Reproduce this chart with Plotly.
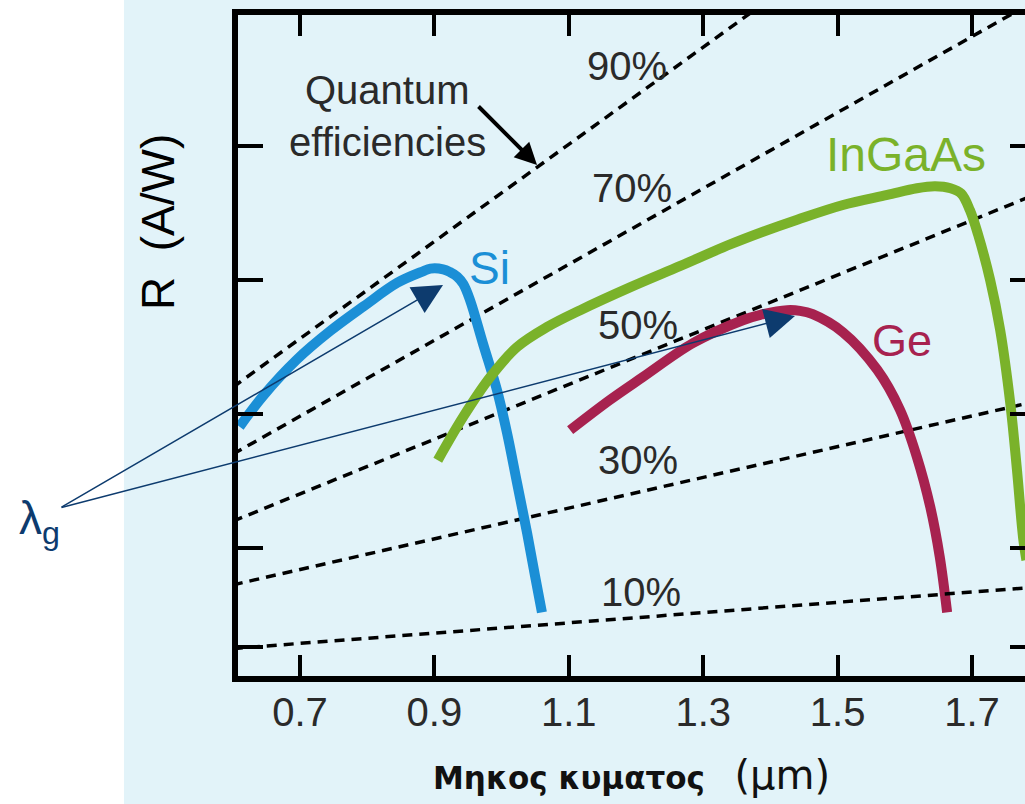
import plotly.graph_objects as go

# ---------------- data ----------------
si_wl = [0.61, 0.645, 0.695, 0.745, 0.795, 0.845, 0.883, 0.894, 0.913, 0.923, 0.934,
         0.943, 0.953, 0.972, 0.993, 1.008, 1.023, 1.038, 1.050, 1.060]
si_r = [0.381, 0.427, 0.481, 0.524, 0.561, 0.596, 0.613, 0.617, 0.616, 0.612, 0.605,
        0.594, 0.570, 0.506, 0.436, 0.372, 0.297, 0.222, 0.157, 0.104]

ingaas_wl = [0.905, 0.943, 0.983, 1.023, 1.068, 1.117, 1.191, 1.266, 1.340, 1.389,
             1.440, 1.508, 1.574, 1.618, 1.645, 1.668, 1.684, 1.697, 1.709, 1.727,
             1.742, 1.757, 1.767, 1.776, 1.781]
ingaas_r = [0.331, 0.396, 0.455, 0.500, 0.530, 0.555, 0.589, 0.621, 0.653, 0.672,
            0.690, 0.712, 0.727, 0.737, 0.740, 0.737, 0.729, 0.704, 0.668, 0.600,
            0.525, 0.416, 0.316, 0.216, 0.182]

ge_wl = [1.102, 1.161, 1.210, 1.285, 1.359, 1.385, 1.425, 1.444, 1.463,
         1.508, 1.559, 1.593, 1.618, 1.638, 1.652, 1.663]
ge_r = [0.376, 0.421, 0.455, 0.506, 0.540, 0.548, 0.555, 0.554, 0.549,
        0.522, 0.466, 0.406, 0.336, 0.261, 0.187, 0.104]

qe_labels = ["90%", "70%", "50%", "30%", "10%"]
qe_wl = [0.60, 1.80]
qe_r = [[0.440, 1.310],
        [0.340, 1.020],
        [0.240, 0.730],
        [0.145, 0.420],
        [0.050, 0.142]]
qe_label_wl = [1.187, 1.194, 1.203, 1.203, 1.207]
qe_label_r = [0.919, 0.737, 0.533, 0.331, 0.134]

x_ticks = [0.7, 0.9, 1.1, 1.3, 1.5, 1.7]
x_tick_text = ["0.7", "0.9", "1.1", "1.3", "1.5", "1.7"]
y_ticks = [0.052, 0.2, 0.4, 0.6, 0.8]

x_range = [0.6077, 1.7789]
y_range = [0.009, 0.9955]

# ---------------- styles ----------------
BG = "#E2F3F9"
SI_C = "#1B8FD6"
IN_C = "#7AB22A"
GE_C = "#A7224F"
NAVY = "#0D3B6E"
TXT = "#2a2a2a"
FONT = "Liberation Sans, Arial, sans-serif"

fig = go.Figure()

for i, lab in enumerate(qe_labels):
    fig.add_trace(go.Scatter(
        x=qe_wl, y=qe_r[i], mode="lines",
        line=dict(color="black", width=3.5, dash="10px,7px"),
        hoverinfo="skip", showlegend=False,
        yaxis="y2" if i == len(qe_labels) - 1 else "y"))

for wl, r, c in [(si_wl, si_r, SI_C), (ingaas_wl, ingaas_r, IN_C), (ge_wl, ge_r, GE_C)]:
    fig.add_trace(go.Scatter(
        x=wl, y=r, mode="lines",
        line=dict(color=c, width=10, shape="spline", smoothing=1.0),
        hoverinfo="skip", showlegend=False))

annotations = []
for i, lab in enumerate(qe_labels):
    annotations.append(dict(x=qe_label_wl[i], y=qe_label_r[i], xref="x", yref="y",
                            xanchor="center", yanchor="middle",
                            text=lab, showarrow=False,
                            font=dict(family=FONT, size=40, color=TXT)))

annotations += [
    dict(x=0.8295, y=0.8836, xref="x", yref="y", text="Quantum", showarrow=False,
         xanchor="center", yanchor="middle",
         font=dict(family=FONT, size=40, color=TXT)),
    dict(x=0.8295, y=0.806, xref="x", yref="y", text="efficiencies", showarrow=False,
         xanchor="center", yanchor="middle",
         font=dict(family=FONT, size=40, color=TXT)),
    dict(x=1.0527, y=0.7716, xref="x", yref="y", ax=-60, ay=-60, text="",
         showarrow=True, arrowhead=2, arrowsize=1.1, arrowwidth=4, arrowcolor="black"),
    dict(x=0.9827, y=0.6179, xref="x", yref="y", text="Si", showarrow=False,
         xanchor="center", yanchor="middle",
         font=dict(family=FONT, size=46, color=SI_C)),
    dict(x=1.6018, y=0.7866, xref="x", yref="y", text="InGaAs", showarrow=False,
         xanchor="center", yanchor="middle",
         font=dict(family=FONT, size=48, color=IN_C)),
    dict(x=1.5958, y=0.5104, xref="x", yref="y", text="Ge", showarrow=False,
         xanchor="center", yanchor="middle",
         font=dict(family=FONT, size=45, color=GE_C)),
    # lambda_g pointers
    dict(x=0.9128, y=0.5925, xref="x", yref="y", ax=-383, ay=223, text="",
         showarrow=True, arrowhead=2, arrowsize=4, arrowwidth=1.5, arrowcolor=NAVY),
    dict(x=1.4366, y=0.5463, xref="x", yref="y", ax=-735, ay=192, text="",
         showarrow=True, arrowhead=2, arrowsize=4, arrowwidth=1.5, arrowcolor=NAVY),
    dict(x=-0.2808, y=0.233, xref="paper", yref="paper", xanchor="left", yanchor="middle",
         text="λ<sub>g</sub>", showarrow=False,
         font=dict(family=FONT, size=46, color=NAVY)),
    # axis titles
    dict(x=-0.1017, y=0.6868, xref="paper", yref="paper", text="R  (A/W)", textangle=-90,
         xanchor="center", yanchor="middle",
         showarrow=False, font=dict(family=FONT, size=46, color="black")),
    dict(x=0.5006, y=-0.1498, xref="paper", yref="paper",
         xanchor="center", yanchor="middle",
         text="<b>Μηκος κυματος</b>   <span style='font-size:40px'>(μm)</span>",
         showarrow=False, font=dict(family="DejaVu Sans, sans-serif", size=31, color="#111")),
]

fig.update_layout(
    width=1025, height=804, autosize=False,
    margin=dict(l=238, r=0, t=15, b=128, pad=0),
    paper_bgcolor="white", plot_bgcolor="rgba(0,0,0,0)",
    showlegend=False, hovermode=False,
    annotations=annotations,
    shapes=[dict(type="rect", xref="paper", yref="paper", x0=-0.1449, x1=1.05, y0=-1, y1=2,
                 fillcolor=BG, line=dict(width=0), layer="below")],
    xaxis=dict(range=x_range, tickvals=x_ticks, ticktext=x_tick_text,
               ticks="inside", ticklen=21, tickwidth=4, tickcolor="black",
               showline=True, linewidth=6, linecolor="black", mirror="ticks",
               showgrid=False, zeroline=False, ticklabelstandoff=-4,
               tickfont=dict(family=FONT, size=40, color=TXT)),
    yaxis=dict(range=y_range, tickvals=y_ticks, showticklabels=False,
               ticks="inside", ticklen=25, tickwidth=4, tickcolor="black",
               showline=True, linewidth=6, linecolor="black",
               showgrid=False, zeroline=False),
    yaxis2=dict(range=y_range, tickvals=y_ticks, showticklabels=False, overlaying="y",
                side="right", ticks="inside", ticklen=15, tickwidth=4, tickcolor="black",
                showline=False, showgrid=False, zeroline=False),
)

fig.write_html("out.html")
